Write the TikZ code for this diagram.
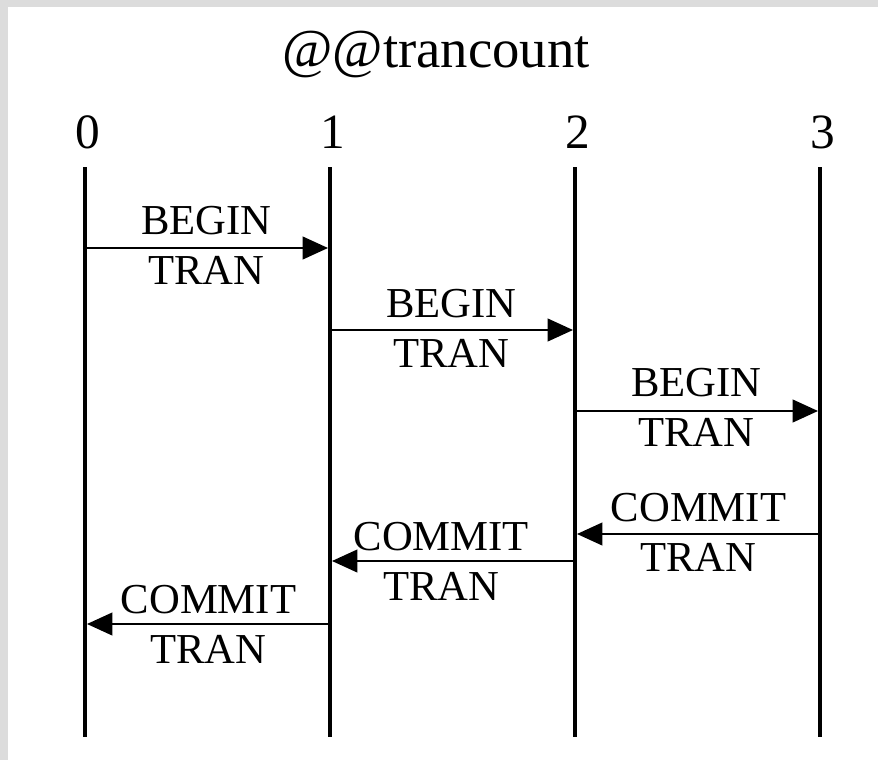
\documentclass[tikz,border=0pt]{standalone}
\usepackage{fontspec}
\setmainfont{Liberation Serif}
\usetikzlibrary{arrows.meta}

\tikzset{
  lifeline/.style={line width=3.4pt},
  msg/.style={line width=1.5pt,-{Triangle[length=19pt,width=17pt]}},
  lbl/.style={align=center,inner sep=0.75pt,font=\fontsize{32}{37.5}\selectfont},
  cnt/.style={anchor=base,inner sep=0.75pt,font=\fontsize{37}{40}\selectfont},
}

\begin{document}
\begin{tikzpicture}[x=0.75pt,y=0.75pt,yscale=-1,xscale=1]
%frame: grey border on the left and top, white sheet
\fill[color={rgb, 255:red, 220; green, 220; blue, 220}] (0,0) rectangle (878,760);
\fill[white] (8,7) rectangle (878,760);

% Text Node
\node[anchor=base,inner sep=0.75pt,font=\fontsize{41}{45}\selectfont] (title) at (436,67) {@@trancount};

%Straight Lines: one line per counter value
\foreach \i/\x in {0/85,1/330,2/575,3/820}{
  \coordinate (top\i) at (\x,167);
  \coordinate (bot\i) at (\x,737);
  \node[cnt] (cnt\i) at (\x+3,148) {\i};
  \draw[lifeline] (top\i) -- (bot\i);
}

%end points of the messages
\coordinate (b0s) at (85,248);   \coordinate (b0e) at (328,248);
\coordinate (b1s) at (330,330);  \coordinate (b1e) at (573,330);
\coordinate (b2s) at (575,411);  \coordinate (b2e) at (818,411);
\coordinate (c2s) at (820,534);  \coordinate (c2e) at (577,534);
\coordinate (c1s) at (575,561);  \coordinate (c1e) at (332,561);
\coordinate (c0s) at (330,624);  \coordinate (c0e) at (87,624);

%BEGIN TRAN
\draw[msg] (b0s) -- node[lbl,yshift=2pt] (lb0) {BEGIN\\TRAN} (b0e);
\draw[msg] (b1s) -- node[lbl,yshift=1pt] (lb1) {BEGIN\\TRAN} (b1e);
\draw[msg] (b2s) -- node[lbl,yshift=3pt] (lb2) {BEGIN\\TRAN} (b2e);

%COMMIT TRAN
\draw[msg] (c2s) -- node[lbl,pos=0.5,yshift=1pt] (lc2) {COMMIT\\TRAN} (c2e);
\draw[msg] (c1s) -- node[lbl,pos=0.55] (lc1) {COMMIT\\TRAN} (c1e);
\draw[msg] (c0s) -- node[lbl] (lc0) {COMMIT\\TRAN} (c0e);

\end{tikzpicture}
\end{document}
